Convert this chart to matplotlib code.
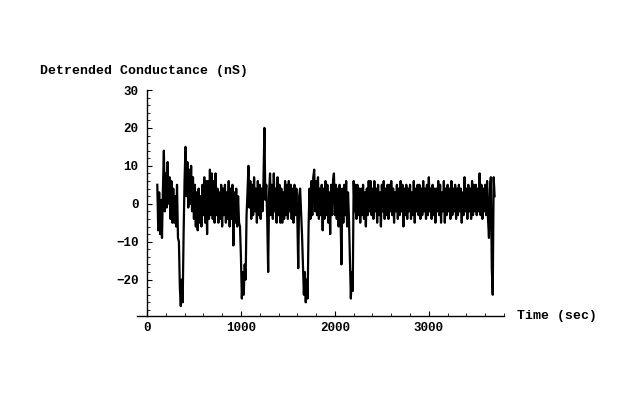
import numpy as np
import matplotlib
matplotlib.use("Agg")
import matplotlib.pyplot as plt
from matplotlib.ticker import MultipleLocator

plt.rcParams["font.family"] = ["Liberation Mono", "DejaVu Sans Mono"]

T_START = 110
T_STEP = 10
cond = [
    5, -7, 3, -8, 1, -9, 4, 14, -2,                 # 110-190
    8, -1, 11, 0, 7, -4, 6, -5, 4, -5,              # 200
    2, -6, 5, -9, -10, -22, -27, -20, -26, -8,      # 300
    6, 15, 2, 11, -1, 9, 0, 10, -2, 7,              # 400
    -4, 5, -6, 3, -7, 4, -5, 2, -6, 5,              # 500
    -3, 7, -5, 6, -8, 6, -4, 9, -3, 8,              # 600
    -4, 6, -5, 8, -3, 4, -5, 3, -4, 5,              # 700
    -6, 4, -3, 5, -5, 3, -4, 6, -6, 4,              # 800
    -4, 5, -11, 3, -5, 4, -6, 2, -5, -6,            # 900
    -14, -25, -18, -24, -16, -20, -3, 3, 10, -1,    # 1000
    6, -4, 5, -3, 7, -2, 4, -5, 6, -3,              # 1100
    5, -4, 4, -2, 6, 20, 1, 5, -4, -18,             # 1200
    3, 8, -3, 5, -4, 8, -2, 4, -5, 7,               # 1300
    -3, 5, -5, 4, -5, 3, -4, 6, -3, 5,              # 1400
    -4, 6, -2, 5, -4, 4, -5, 5, -3, 4,              # 1500
    -3, -17, 2, 4, -2, -8, -16, -24, -18, -26,      # 1600
    -20, -25, -6, 4, -4, 6, -3, 7, 9, -2,           # 1700
    6, -3, 7, -4, 4, -3, 5, -7, 4, -4,              # 1800
    6, -3, 5, -5, 3, -8, 5, -3, 6, 8,               # 1900
    -3, 5, -4, 4, -6, 5, -3, -16, 4, -5,            # 2000
    5, -3, 6, -6, 3, -4, -14, -25, -18, -23,        # 2100
    6, -2, 5, -4, 5, -3, 4, -5, 4, -3,              # 2200
    5, -4, 3, -6, 4, -3, 6, -2, 6, -3,              # 2300
    4, -4, 6, -2, 4, -5, 5, -3, 3, -6,              # 2400
    5, -2, 6, -4, 4, -3, 5, -4, 5, -2,              # 2500
    6, -3, 4, -5, 3, -2, 5, -4, 4, -3,              # 2600
    6, -2, 5, -6, 4, -3, 5, -4, 4, -2,              # 2700
    5, -4, 3, -3, 6, -5, 4, -2, 5, -3,              # 2800
    5, -4, 4, -3, 6, -2, 4, -4, 5, -3,              # 2900
    7, -2, 4, -4, 5, -3, 4, -5, 4, -2,              # 3000
    6, -3, 5, -5, 3, -2, 6, -5, 4, -3,              # 3100
    5, -2, 4, -4, 6, -3, 4, -2, 5, -4,              # 3200
    4, -3, 5, -2, 4, -5, 3, -3, 7, -2,              # 3300
    4, -4, 5, -2, 4, -4, 6, -3, 5, -2,              # 3400
    5, -3, 4, -2, 8, -3, 5, -4, 4, -2,              # 3500
    5, -3, 6, -4, -9, 4, 7, -17, -24, 7,            # 3600
    2,                                              # 3700
]
t_sec = T_START + T_STEP * np.arange(len(cond))

fig = plt.figure(figsize=(6.4, 4), dpi=100)
ax = fig.add_axes([137 / 640, 1 - 316 / 400, (504 - 137) / 640, (316 - 90) / 400])

ax.plot(t_sec, cond, color="black", linewidth=1.6)

ax.set_xlim(-106, 3800)
ax.set_ylim(-29.6, 30)
ax.spines["top"].set_visible(False)
ax.spines["right"].set_visible(False)
ax.spines["left"].set_position(("data", 0))
for s in ("left", "bottom"):
    ax.spines[s].set_linewidth(1.0)

ax.set_xticks([0, 1000, 2000, 3000])
ax.xaxis.set_minor_locator(MultipleLocator(200))
ax.set_yticks([-20, -10, 0, 10, 20, 30])
ax.yaxis.set_minor_locator(MultipleLocator(2))
ax.tick_params(which="both", direction="in", labelsize=9)
ax.tick_params(which="major", length=3.5, width=0.8)
ax.tick_params(which="minor", length=2, width=0.6)
ax.tick_params(axis="y", pad=6)
ax.tick_params(axis="x", pad=4)
for lab in ax.get_xticklabels() + ax.get_yticklabels():
    lab.set_fontweight("bold")

fig.text(40 / 640, 1 - 71 / 400, "Detrended Conductance (nS)", fontsize=9.5,
         va="center", ha="left", fontweight="bold")
fig.text(517 / 640, 1 - 316 / 400, "Time (sec)", fontsize=9.5,
         va="center", ha="left", fontweight="bold")

fig.savefig("out.png", dpi=100, facecolor="white")
